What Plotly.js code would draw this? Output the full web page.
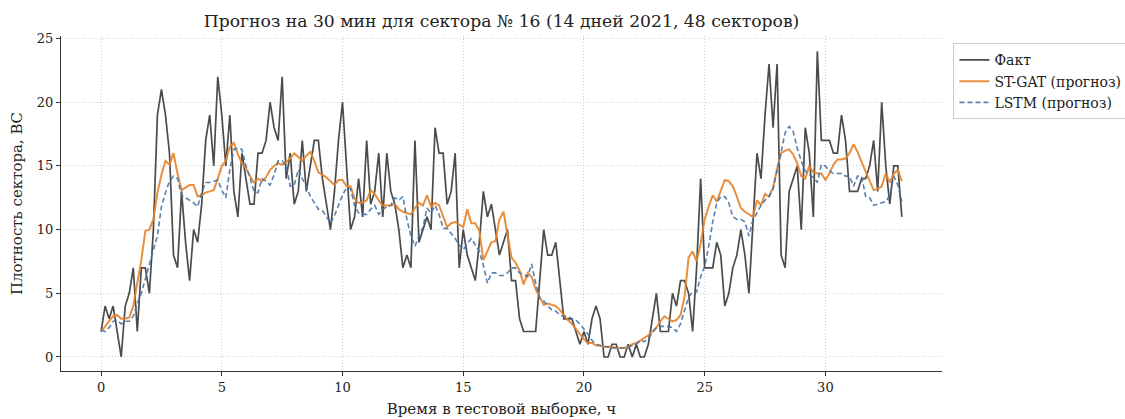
<!DOCTYPE html>
<html>
<head>
<meta charset="utf-8">
<script src="https://cdn.plot.ly/plotly-3.0.1.min.js"></script>
<style>
html,body{margin:0;padding:0;background:#fff;overflow:hidden;}
#chart{width:1125px;height:419px;}
</style>
</head>
<body>
<div id="chart"></div>
<script>
// sampling step: 10 minutes, expressed in hours
const stepHours = 10 / 60;

const fact = [
 2,4,3,4,2,0,4,5,7,2, 7,7,5,10,19,21,19,16,8,7,
 13,9,6,10,9,12,17,19,15,22, 19,15,19,13,11,16,14,12,12,16,
 16,17,20,18,17,22,14,16,12,13, 17,13,15,17,17,14,12,10,13,17,
 20,15,10,11,14,11,17,12,13,16, 11,16,13,12,10,7,8,7,17,9,
 10,11,10,18,16,16,12,13,16,7, 10,8,7,6,9,13,11,12,10,8,
 9,10,6,6,3,2,2,2,2,6, 10,8,8,9,6,3,3,3,2,1,
 2,1,3,4,3,0,0,1,1,0, 0,1,0,1,0,0,1,3,5,2,
 2,2,5,4,6,6,5,2,7,14, 7,7,7,9,8,4,5,7,8,10,
 8,5,11,16,14,19,23,18,23,8, 7,13,14,15,10,18,16,11,24,17,
 17,17,16,16,19,17,13,13,13,14, 14,15,17,13,20,15,12,15,15,11
];

const stgat = [
 2.0,2.4,2.8,3.2,3.3,3.0,3.0,3.1,4.0,5.8, 7.6,9.9,10.0,10.8,12.9,14.3,15.4,15.1,16.0,14.4,
 13.1,13.3,13.5,13.5,12.6,12.7,12.9,13.0,13.1,14.0, 15.0,15.4,16.5,16.8,15.9,15.2,14.8,14.2,13.7,14.0,
 13.8,14.1,14.7,15.0,15.2,15.1,15.3,15.6,16.0,15.7, 15.4,15.8,16.1,15.4,14.5,14.3,14.1,13.8,13.5,13.9,
 13.9,13.4,13.4,12.4,12.1,12.1,12.3,13.1,12.8,12.3, 11.9,11.9,11.9,12.0,11.6,11.4,11.3,11.2,11.7,12.1,
 11.9,12.7,11.8,12.1,11.9,11.0,10.2,10.5,10.6,10.4, 10.2,11.6,10.5,10.5,9.9,7.6,8.3,9.0,9.1,10.8,
 11.4,9.6,7.8,7.4,6.8,5.7,6.6,6.3,5.3,4.7, 4.1,4.2,4.1,4.0,3.7,3.3,2.9,2.6,2.2,1.8,
 1.4,1.1,1.1,0.9,0.9,0.8,0.8,0.8,0.7,0.7, 0.7,0.8,1.0,1.1,1.3,1.5,1.7,2.0,2.3,2.8,
 3.2,3.0,2.8,2.9,3.3,4.7,7.8,8.3,7.5,8.9, 10.8,11.8,12.7,12.2,13.1,13.9,13.8,13.4,12.6,11.7,
 11.4,11.2,11.0,12.3,11.9,12.8,12.6,13.3,14.8,16.0, 16.2,16.3,15.9,15.2,14.2,14.0,15.0,14.5,14.4,14.4,
 13.9,14.4,15.1,15.5,15.5,15.6,16.0,16.7,16.1,15.3, 14.6,13.9,13.1,13.2,13.4,14.4,13.7,14.4,14.7,13.8
];

const lstm = [
 2.1,2.0,2.3,2.8,2.9,2.6,2.8,2.8,3.2,4.2, 5.0,6.2,7.2,8.4,9.5,11.8,12.9,13.8,14.2,14.0,
 12.7,12.5,12.3,12.1,11.8,12.9,13.7,13.7,13.8,13.9, 13.1,12.5,14.7,16.3,16.4,16.3,15.0,14.1,13.0,12.9,
 14.0,13.8,13.5,14.3,15.4,15.4,15.0,13.4,13.5,14.7, 14.0,13.4,12.6,12.1,11.6,11.5,11.0,10.5,11.1,11.9,
 12.7,13.3,13.2,11.9,11.3,11.2,11.2,11.6,11.9,11.2, 11.6,11.8,11.9,12.5,12.3,12.6,10.8,9.5,8.7,9.5,
 10.2,11.7,11.3,11.9,11.2,10.1,10.1,9.7,9.3,8.8, 8.4,8.9,9.3,8.8,8.3,7.2,5.8,6.6,6.6,6.4,
 6.4,6.6,7.0,7.0,6.6,6.5,6.3,7.3,5.8,4.6, 4.4,4.0,3.7,3.6,3.3,3.2,3.2,3.0,2.9,2.6,
 2.2,1.8,1.3,1.0,0.9,0.8,0.8,0.7,0.7,0.7, 0.7,0.8,0.9,1.0,1.3,1.2,1.5,1.9,2.3,2.4,
 2.4,2.4,2.3,2.0,2.6,3.7,4.7,5.1,5.1,6.3, 7.1,8.7,10.6,12.1,12.6,12.6,12.1,11.0,10.8,10.8,
 10.6,9.5,10.8,11.3,11.9,12.3,12.6,13.2,14.8,16.1, 17.6,18.1,17.7,16.4,15.4,14.6,14.3,14.1,13.7,15.1,
 15.0,14.6,14.4,14.4,14.4,14.2,14.2,13.4,14.2,14.2, 12.6,12.5,11.9,12.0,12.1,12.2,12.7,14.2,13.5,12.2
];

const seriesNames = ['Факт', 'ST-GAT (прогноз)', 'LSTM (прогноз)'];
const xTicks = [0, 5, 10, 15, 20, 25, 30];
const yTicks = [0, 5, 10, 15, 20, 25];

const hours = fact.map((_, i) => i * stepHours);
const font = 'DejaVu Serif, serif';

const traces = [
  {x: hours, y: fact, type: 'scatter', mode: 'lines', name: seriesNames[0],
   line: {color: 'rgba(30,30,30,0.8)', width: 1.7}},
  {x: hours, y: stgat, type: 'scatter', mode: 'lines', name: seriesNames[1],
   line: {color: 'rgba(230,130,40,0.9)', width: 2}},
  {x: hours, y: lstm, type: 'scatter', mode: 'lines', name: seriesNames[2],
   line: {color: 'rgba(70,115,165,0.9)', width: 1.6, dash: '5px,3px'}}
];

const axisCommon = {
  ticks: 'outside', ticklen: 4, tickcolor: '#333',
  showline: true, linecolor: '#333', linewidth: 1.2,
  showgrid: true, gridcolor: '#cfcfcf', griddash: '1px,2px', gridwidth: 1,
  zeroline: false, tickfont: {family: font, size: 13, color: '#222'}
};

const layout = {
  width: 1125, height: 419,
  paper_bgcolor: '#fff', plot_bgcolor: '#fff',
  margin: {l: 61, r: 183, t: 36, b: 48, autoexpand: false},
  font: {family: font, size: 13, color: '#222'},
  title: {text: 'Прогноз на 30 мин для сектора № 16 (14 дней 2021, 48 секторов)',
          font: {family: font, size: 17.2, color: '#222'},
          x: 0.4458, xanchor: 'center', y: 0.95, yanchor: 'middle'},
  xaxis: Object.assign({}, axisCommon, {
          range: [-1.66, 34.83], tickvals: xTicks,
          title: {text: 'Время в тестовой выборке, ч', font: {family: font, size: 15, color: '#222'}, standoff: 9}}),
  yaxis: Object.assign({}, axisCommon, {
          range: [-1.1, 25.2], tickvals: yTicks,
          title: {text: 'Плотность сектора, ВС', font: {family: font, size: 15, color: '#222'}, standoff: 10}}),
  legend: {x: 1.013, y: 0.978, xanchor: 'left', yanchor: 'top',
           bgcolor: 'rgba(255,255,255,0.9)', bordercolor: '#cccccc', borderwidth: 1,
           itemwidth: 30, tracegroupgap: 0,
           font: {family: font, size: 14, color: '#222'}},
  showlegend: true
};

Plotly.newPlot('chart', traces, layout, {displayModeBar: false, staticPlot: true});
</script>
</body>
</html>
